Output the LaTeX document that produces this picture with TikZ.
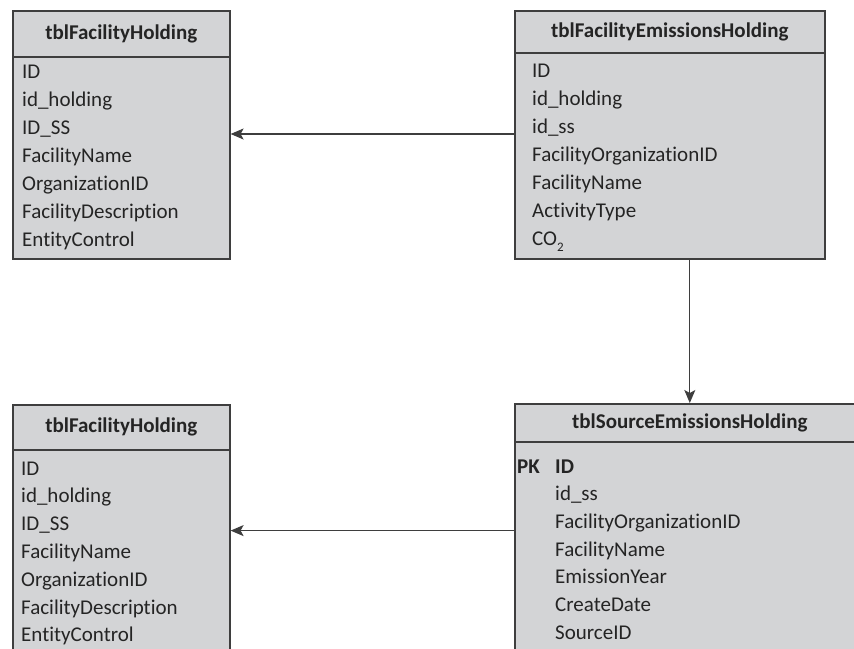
\documentclass[tikz,border=0pt]{standalone}
\usepackage{fontspec}
\setmainfont{Carlito}[Ligatures=NoCommon]
\usetikzlibrary{arrows.meta}
\definecolor{tblgray}{RGB}{211,212,214}
\definecolor{tblline}{RGB}{62,62,62}
\definecolor{tbltext}{RGB}{36,36,36}
\tikzset{
  tblhead/.style={draw=tblline, line width=1.6pt, fill=tblgray, anchor=north west,
    inner sep=0pt, font=\fontsize{21}{25}\selectfont\bfseries, text=tbltext},
  tblbody/.style={draw=tblline, line width=1.6pt, fill=tblgray, anchor=north west, inner sep=0pt},
  field/.style={anchor=base west, inner sep=0pt, text=tbltext},
  link/.style={draw=tblline, line width=1.3pt, -{Stealth[length=13pt,width=11pt,inset=3pt]}}
}

\begin{document}
\begin{tikzpicture}[x=1pt,y=-1pt,font=\fontsize{21}{25}\selectfont]
 \useasboundingbox (0,0) rectangle (854,648);
 \clip (0,0) rectangle (854,648);

 % tblFacilityHolding (top)
 \node [tblbody, minimum width=217pt, minimum height=202pt] (fhabody) at (12,56) {};
 \node [tblhead, minimum width=217pt, minimum height=46pt] (fhahead) at (12,10) {tblFacilityHolding};
 \node [field] (fha1) at (22,78) {ID};
 \node [field] (fha2) at (22,106) {id\_holding};
 \node [field] (fha3) at (22,134) {ID\_SS};
 \node [field] (fha4) at (22,162) {FacilityName};
 \node [field] (fha5) at (22,190) {OrganizationID};
 \node [field] (fha6) at (22,218) {FacilityDescription};
 \node [field] (fha7) at (22,246) {EntityControl};

 % tblFacilityEmissionsHolding
 \node [tblbody, minimum width=310pt, minimum height=206pt] (fehbody) at (514,52) {};
 \node [tblhead, minimum width=310pt, minimum height=42pt] (fehhead) at (514,10) {tblFacilityEmissionsHolding};
 \node [field] (feh1) at (532,77) {ID};
 \node [field] (feh2) at (532,105) {id\_holding};
 \node [field] (feh3) at (532,133) {id\_ss};
 \node [field] (feh4) at (532,161) {FacilityOrganizationID};
 \node [field] (feh5) at (532,189) {FacilityName};
 \node [field] (feh6) at (532,217) {ActivityType};
 \node [field] (feh7) at (532,245) {CO\raisebox{-6pt}{\fontsize{13}{13}\selectfont 2}};

 % tblFacilityHolding (bottom)
 \node [tblbody, minimum width=217pt, minimum height=260pt] (fhbbody) at (12,449) {};
 \node [tblhead, minimum width=217pt, minimum height=45pt] (fhbhead) at (12,404) {tblFacilityHolding};
 \node [field] (fhb1) at (21,475) {ID};
 \node [field] (fhb2) at (21,502.8) {id\_holding};
 \node [field] (fhb3) at (21,530.6) {ID\_SS};
 \node [field] (fhb4) at (21,558.4) {FacilityName};
 \node [field] (fhb5) at (21,586.2) {OrganizationID};
 \node [field] (fhb6) at (21,614) {FacilityDescription};
 \node [field] (fhb7) at (21,641.8) {EntityControl};

 % tblSourceEmissionsHolding
 \node [tblbody, minimum width=350pt, minimum height=260pt] (sehbody) at (514,441) {};
 \node [tblhead, minimum width=350pt, minimum height=38pt] (sehhead) at (514,403) {tblSourceEmissionsHolding};
 \node [field, font=\fontsize{21}{25}\selectfont\bfseries] (sehpk) at (517,473) {PK};
 \node [field, font=\fontsize{21}{25}\selectfont\bfseries] (seh1) at (555,473) {ID};
 \node [field] (seh2) at (555,500.7) {id\_ss};
 \node [field] (seh3) at (555,528.4) {FacilityOrganizationID};
 \node [field] (seh4) at (555,556.1) {FacilityName};
 \node [field] (seh5) at (555,583.8) {EmissionYear};
 \node [field] (seh6) at (555,611.5) {CreateDate};
 \node [field] (seh7) at (555,639.2) {SourceID};

 % links
 \draw [link] (fehbody.west |- fha3.base) -- (fhabody.east |- fha3.base);
 \draw [link] (sehhead.north |- fehbody.south) -- (sehhead.north);
 \draw [link] (sehbody.west |- fhb3.base) -- (fhbbody.east |- fhb3.base);
\end{tikzpicture}
\end{document}
